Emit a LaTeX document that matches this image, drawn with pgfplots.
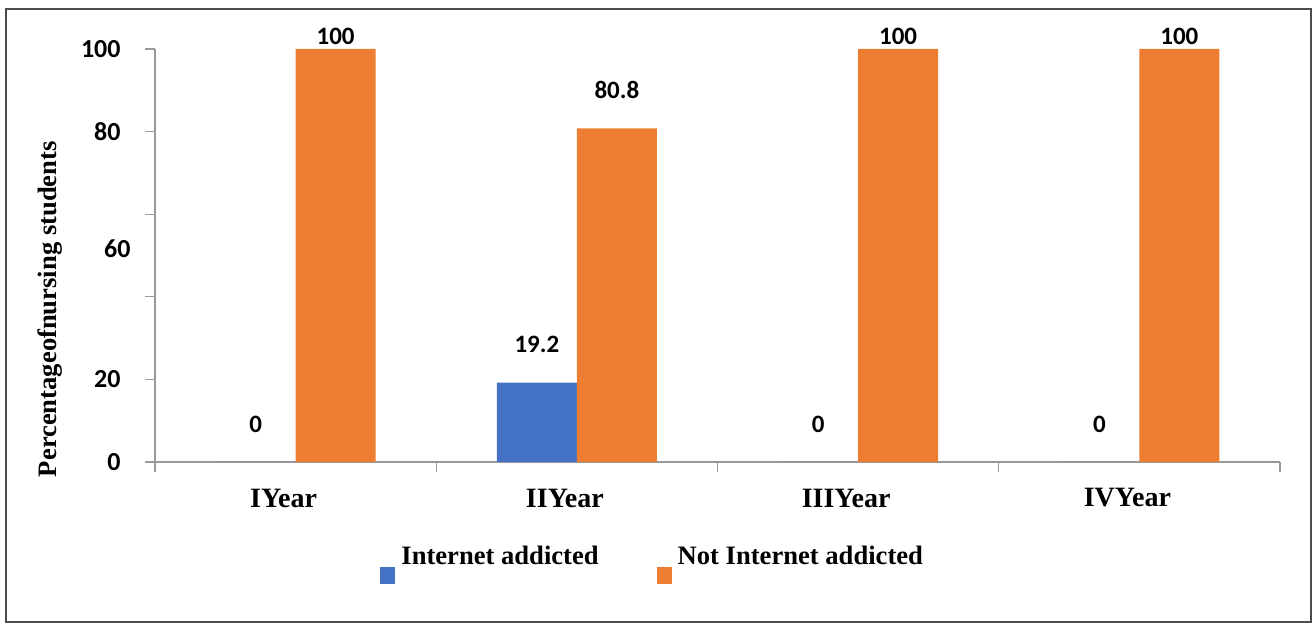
\documentclass[border=0pt]{standalone}
\usepackage{pgfplots}
\pgfplotsset{compat=1.18}
\usepackage{fontspec}
\setmainfont{Liberation Serif}
\newfontfamily\calibri{Carlito}
\definecolor{cblue}{HTML}{4472C4}
\definecolor{corange}{HTML}{ED7D31}
\pgfplotsset{sqlegend/.style={legend image code/.code={\fill[##1] (0pt,-13.5pt) rectangle (7.5pt,-5pt);}}}
\begin{document}
\begin{tikzpicture}
\useasboundingbox (0,0) rectangle (657pt,313pt);
\draw[black!70, line width=0.8pt] (3pt,2pt) rectangle (655.5pt,308.5pt);
\begin{axis}[
  at={(77.5pt,82pt)}, anchor=south west,
  scale only axis, width=562.5pt, height=206.5pt,
  ybar=0pt, bar width=40pt,
  xmin=-0.5, xmax=3.5, ymin=0, ymax=100,
  axis x line*=bottom, axis y line*=left,
  axis line style={draw=gray!80, line width=0.6pt},
  tick align=outside, major tick length=5pt, minor tick length=5pt,
  tick style={draw=gray!80, line width=0.6pt},
  /pgf/number format/assume math mode=true,
  ytick={0,20,40,60,80,100}, yticklabels={0,20,,,80,100},
  extra y ticks={51.6}, extra y tick labels={60},
  extra y tick style={major tick length=0pt},
  yticklabel style={font=\calibri\bfseries\fontsize{13}{15}\selectfont, anchor=east, inner sep=0pt, xshift=-12pt},
  xtick={0,1,2,3}, xticklabels={IYear,IIYear,IIIYear,IVYear},
  major x tick style={draw=none},
  minor xtick={-0.5,0.5,1.5,2.5,3.5},
  xticklabel style={font=\bfseries\fontsize{14}{16}\selectfont, anchor=center, yshift=-13pt, xshift=-6pt},
  ylabel={Percentageofnursing students},
  ylabel style={font=\bfseries\fontsize{13.3}{16}\selectfont, at={(axis description cs:-0.0933,0.37)}, anchor=center},
  nodes near coords,
  visualization depends on={y \as \rawy},
  every node near coord/.append style={font=\calibri\bfseries\fontsize{12.5}{14}\selectfont, anchor=center, yshift={\rawy>99 ? 6.5 : 19}},
  clip=false,
  legend columns=2,
  legend style={at={(axis description cs:0.1947,-0.183)}, anchor=north west, draw=none, fill=none,
    font=\bfseries\fontsize{13.3}{16}\selectfont,
    /tikz/every odd column/.append style={column sep=1pt},
    /tikz/every even column/.append style={column sep=27pt}},
]
\addplot[fill=cblue, draw=none, sqlegend] coordinates {(0,0) (1,19.2) (2,0) (3,0)};
\addplot[fill=corange, draw=none, sqlegend] coordinates {(0,100) (1,80.8) (2,100) (3,100)};
\legend{Internet addicted, Not Internet addicted}
\end{axis}
\end{tikzpicture}
\end{document}
